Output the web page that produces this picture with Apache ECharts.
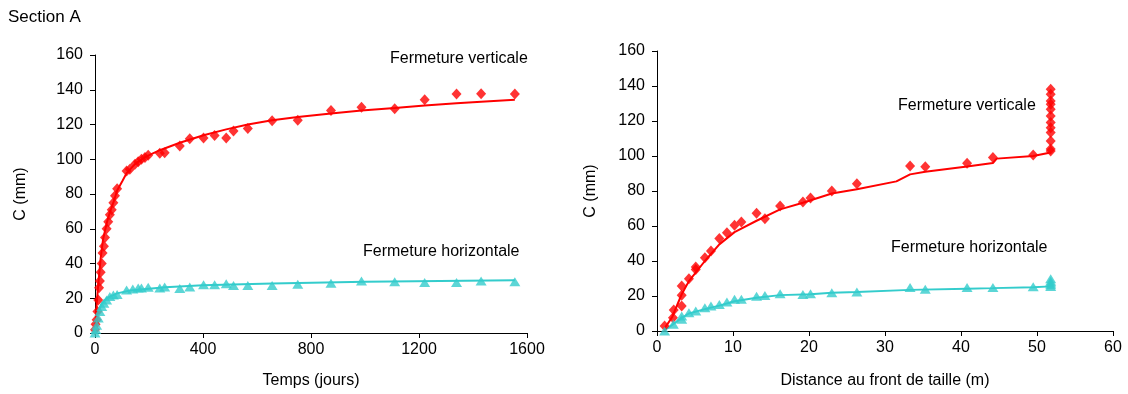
<!DOCTYPE html>
<html><head><meta charset="utf-8">
<script src="https://cdn.jsdelivr.net/npm/echarts@6/dist/echarts.min.js"></script>
<style>html,body{margin:0;padding:0;background:#fff}#c{width:1128px;height:394px}</style>
</head><body><div id="c"></div>
<script>
// ---- Left chart: time (days) ----
const leftVertPts = [[0,1.9],[2,5],[6,7.6],[9,12.4],[12,19],[15,26],[18,30],[21,35],[25,40],[28,46],[33,50],[37,55],[43,60],[49,64],[55,68],[62,71],[68,75],[74,79],[82,83],
  [117,93.3],[129,94.3],[148,97.1],[160,98.5],[172,100],[185,101],[197,102.3],[240,103.4],[258,103.8],[314,107.6],[351,111.8],[402,112.2],[443,113.7],[486,112.2],[513,116.2],[566,117.7],[656,122.1],
  [751,122.5],[874,128],[987,129.9],[1110,129.1],[1221,134.3],[1339,137.5],[1430,137.7],[1555,137.5]];
const leftVertFit = [[0,0],[6,16],[12,28],[21,43],[30,54],[43,63],[55,69.5],[68,75],[82,82],[102,87.6],[117,92],[148,97.2],[185,101.2],[240,105.2],[314,109.5],[402,113.8],[486,117.2],[566,120],[656,122.4],[751,124.3],[874,126.3],[987,128],[1110,129.5],[1221,131],[1339,132.3],[1430,133.1],[1555,134.2]];
const leftHorPts = [[0,0],[3,2],[6,4.4],[12,8.6],[18,12.4],[25,15.2],[33,17.1],[43,19],[55,21],[68,21.9],[82,22.2],
  [117,24.8],[140,25.3],[160,25.9],[172,25.9],[197,26.3],[240,25.9],[258,26.5],[314,25.6],[351,26.5],[402,27.8],[443,27.8],[486,28.4],[513,27.4],[566,27.4],[656,27.4],
  [751,28],[874,28.6],[987,29.9],[1110,29.5],[1221,29.1],[1339,29],[1430,29.9],[1555,29.5]];
const leftHorFit = [[0,0],[6,6.5],[12,12],[25,17],[43,20],[82,22.8],[130,24.5],[260,26.3],[400,27.5],[656,28.5],[1000,29.5],[1555,30.4]];

// ---- Right chart: distance to face (m) ----
const rightVertPts = [[1,2.9],[2.1,7.6],[2.2,12],[3.25,14.3],[3.25,20.4],[3.25,25.7],[4.2,29.9],[5.1,35.2],[5.1,36.6],[6.3,41.9],[7.1,45.7],[8.2,52.8],[9.2,56.2],[10.2,60.4],[11.1,62.3],[13.1,67.3],[14.2,64.2],[16.2,71.4],[19.2,73.7],[20.2,76],[23,80],[26.3,84.2],
  [33.3,94.3],[35.3,93.9],[40.8,95.8],[44.2,99.1],[49.5,100.6],
  [51.8,102.9],[51.8,104],[51.8,108.6],[51.8,113.4],[51.8,116.2],[51.8,119.1],[51.8,122.9],[51.8,126.7],[51.8,129.6],[51.8,131.4],[51.8,135.3],[51.8,138.1]];
const rightVertFit = [[1,1.5],[2,8],[3.25,21],[4.2,28.5],[6.3,40],[8.2,49.5],[10.2,56.5],[13.1,63],[16.2,69.5],[19.2,73.3],[23,78.6],[26.3,81],[31.5,85.5],[33.3,89.5],[35.3,91],[40.8,94],[44.2,96],[44.7,98.5],[49.5,100],[51.8,102]];
const rightHorPts = [[1,0],[2.15,3.8],[3.25,6.7],[3.25,8.6],[4.2,10.5],[5.1,11.4],[6.3,13.3],[7.1,14.3],[8.2,15.2],[9.2,16.6],[10.2,18.1],[11.1,18.1],[13.1,19.9],[14.2,20.3],[16.2,21.3],[19.2,20.9],[20.2,21.3],[23,21.9],[26.3,22.3],
  [33.3,24.8],[35.3,23.8],[40.8,24.8],[44.2,24.8],[49.5,25.3],[51.8,25.5],[51.8,26.5],[51.8,27.5],[51.8,28.5],[51.8,29.8]];
const rightHorFit = [[1,0.5],[2,3.5],[3.25,7.5],[4.2,10],[6.3,12.5],[8.2,14.5],[10.2,17],[13.1,19],[16.2,20.5],[20.2,21],[23,21.8],[26.3,22.3],[33.3,23.5],[40.8,24.2],[44.2,24.5],[49.5,25],[51.8,25.5]];

const yTicks = {min:0,max:160,interval:20};
const RED = '#ff0000', CYAN = '#33cccc';
const FONT = 'Liberation Sans, Arial, sans-serif';
const labelStyle = {color:'#000', fontSize:16, fontFamily:FONT};

function xAx(idx, min, max, interval, name, gap){
  return {gridIndex:idx, type:'value', min, max, interval, name, nameLocation:'middle', nameGap:gap,
    nameTextStyle:{color:'#000', fontSize:16, fontFamily:FONT},
    axisLine:{lineStyle:{color:'#000',width:1}}, axisTick:{show:true, length:5, lineStyle:{color:'#000'}},
    axisLabel:{...labelStyle, margin:9, formatter:v=>String(v)}, splitLine:{show:false}};
}
function yAx(idx, gap){
  return {gridIndex:idx, type:'value', ...yTicks, name:'C (mm)', nameLocation:'middle', nameGap:gap,
    nameTextStyle:{color:'#000', fontSize:16, fontFamily:FONT},
    axisLine:{show:true, lineStyle:{color:'#000',width:1}}, axisTick:{show:true, length:5, lineStyle:{color:'#000'}},
    axisLabel:{...labelStyle, margin:12, formatter:v=>String(v)}, splitLine:{show:false}};
}
function scat(i, data, color, sym){
  return {type:'scatter', xAxisIndex:i, yAxisIndex:i, data, symbol:sym, symbolSize: sym==='diamond'?[10,11]:[11,9],
    itemStyle:{color}, z:3, silent:true};
}
function line(i, data, color){
  return {type:'line', xAxisIndex:i, yAxisIndex:i, data, smooth:false, showSymbol:false, symbol:'none',
    lineStyle:{color, width:2}, z:2, silent:true};
}
function txt(x, y, text, size){
  return {type:'text', x, y, style:{text, fill:'#000', font:(size||16)+'px '+FONT, verticalAlign:'middle'}};
}

const chart = echarts.init(document.getElementById('c'), null, {renderer:'canvas'});
chart.setOption({
  animation:false,
  backgroundColor:'#fff',
  grid:[{left:95, top:55, width:432, height:280}, {left:657, top:51, width:456, height:280}],
  xAxis:[xAx(0,0,1600,400,'Temps (jours)',40), xAx(1,0,60,10,'Distance au front de taille (m)',42)],
  yAxis:[yAx(0,66), yAx(1,58)],
  series:[
    line(0, leftVertFit, RED), scat(0, leftVertPts, RED, 'diamond'),
    line(0, leftHorFit, CYAN), scat(0, leftHorPts, CYAN, 'triangle'),
    line(1, rightVertFit, RED), scat(1, rightVertPts, RED, 'diamond'),
    line(1, rightHorFit, CYAN), scat(1, rightHorPts, CYAN, 'triangle')
  ],
  graphic:[
    txt(8, 17, 'Section A', 17),
    txt(390, 59, 'Fermeture verticale'),
    txt(363, 252, 'Fermeture horizontale'),
    txt(898, 106, 'Fermeture verticale'),
    txt(891, 248, 'Fermeture horizontale')
  ]
});
</script></body></html>
